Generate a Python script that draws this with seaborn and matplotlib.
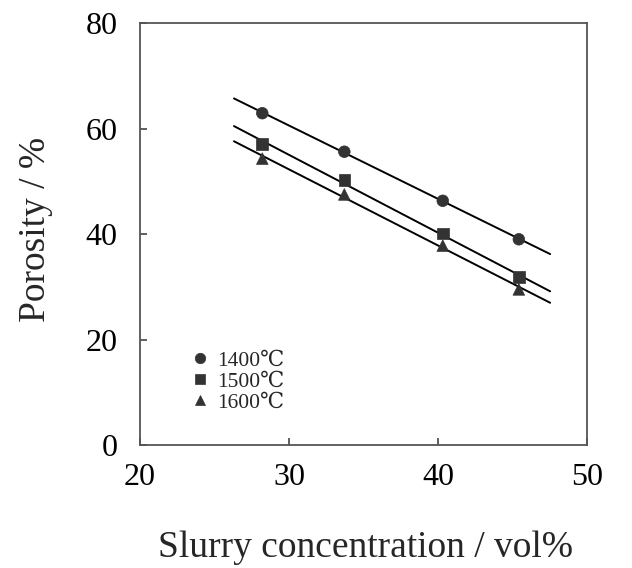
import numpy as np
import pandas as pd
import matplotlib
matplotlib.use("Agg")
import matplotlib.pyplot as plt
import seaborn as sns

# data
slurry = [28.2, 33.7, 40.3, 45.4]
por_1400 = [62.9, 55.6, 46.3, 39.0]
por_1500 = [57.1, 50.2, 40.1, 31.8]
por_1600 = [54.3, 47.5, 37.8, 29.5]
temps = ["1400℃", "1500℃", "1600℃"]
fit_range = [26.3, 47.5]

sns.set_style("white")
plt.rcParams['font.family'] = ['Liberation Serif', 'DejaVu Serif']

df = pd.DataFrame({
    "slurry": slurry * 3,
    "porosity": por_1400 + por_1500 + por_1600,
    "temp": [t for t in temps for _ in slurry],
})

fig = plt.figure(figsize=(6.32, 5.68), dpi=100)
ax = fig.add_axes([0.2215, 0.2165, 0.708, 0.743])

# linear fit lines through each series
fit_rows = []
xs = np.linspace(fit_range[0], fit_range[1], 2)
for t in temps:
    sub = df[df.temp == t]
    k, b = np.polyfit(sub.slurry, sub.porosity, 1)
    for x in xs:
        fit_rows.append({"slurry": x, "porosity": k * x + b, "temp": t})
fit_df = pd.DataFrame(fit_rows)
sns.lineplot(data=fit_df, x="slurry", y="porosity", units="temp", estimator=None,
             color="black", lw=1.4, ax=ax, legend=False)

markers = {"1400℃": "o", "1500℃": "s", "1600℃": "^"}
sns.scatterplot(data=df, x="slurry", y="porosity", style="temp", markers=markers,
                color="#333333", s=70, edgecolor="#333333", linewidth=0.5, ax=ax, zorder=3)

ax.set_xlim(20, 50)
ax.set_ylim(0, 80)
ax.set_xticks([20, 30, 40, 50])
ax.set_yticks([0, 20, 40, 60, 80])
ax.tick_params(axis="both", direction="in", length=5, width=1.2, labelsize=23, colors="#444444",
               labelcolor="black", bottom=True, left=True, top=False, right=False)
ax.tick_params(axis="x", pad=13)
ax.tick_params(axis="y", pad=16)
for s in ax.spines.values():
    s.set_color("#555555")
    s.set_linewidth(1.3)

ax.set_xlabel("Slurry concentration / vol%", fontsize=27, va="center")
ax.set_ylabel("Porosity / %", fontsize=27, va="center")
ax.xaxis.set_label_coords(0.504, -0.243)
ax.yaxis.set_label_coords(-0.233, 0.51)

leg = ax.legend(loc="upper left", bbox_to_anchor=(0.085, 0.25), frameon=False, fontsize=15.5,
                handlelength=1.0, handletextpad=0.3, labelspacing=0.05, borderpad=0,
                markerscale=0.9, title=None)

fig.savefig("out.png", dpi=100)
